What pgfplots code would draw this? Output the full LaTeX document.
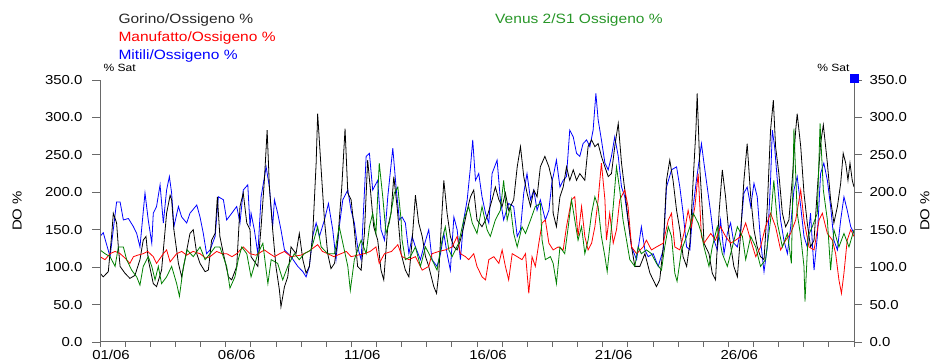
\documentclass[border=0pt]{standalone}
\usepackage{fontspec}
\setmainfont{Liberation Sans}[FakeStretch=1.15]
\usepackage{pgfplots}
\pgfplotsset{compat=1.18}
\definecolor{axgray}{RGB}{105,105,105}
\definecolor{dgreen}{RGB}{0,128,0}
\definecolor{lgreen}{RGB}{40,150,40}
\begin{document}
\begin{tikzpicture}[font=\fontsize{13}{15}\selectfont]
\useasboundingbox (0,0) rectangle (940pt,364pt);
\pgfplotsset{
  base/.style={scale only axis, width=754pt, height=262pt, at={(100pt,22pt)}, anchor=south west,
    xmin=0, xmax=30, ymin=0, ymax=350, tick align=outside,
    tick style={axgray, line width=0.8pt}, axis line style={axgray, line width=1pt}},
}
\begin{axis}[base, axis x line*=bottom, axis y line=none, ytick=\empty,
  xtick={0,5,...,25}, xticklabels={01/06,06/06,11/06,16/06,21/06,26/06},
  minor xtick={1,...,30}, major tick length=5pt, minor tick length=5pt,
  xticklabel style={anchor=north, xshift=11pt},
  every axis plot/.append style={line width=0.8pt}]
% Mitili (blue)
\addplot[blue] coordinates {
(0,141) (0.13,146) (0.40,114) (0.66,187) (0.80,187) (0.93,163) (1.13,165) (1.33,154) (1.46,145) (1.59,127) (1.79,199) (1.92,163) (2.06,132) (2.12,172) (2.25,181) (2.39,210) (2.52,159) (2.65,203) (2.76,221) (2.85,199) (2.94,154) (3.12,181) (3.25,167) (3.45,159) (3.58,172) (3.85,183) (3.98,167) (4.11,145) (4.24,118) (4.38,123) (4.58,141) (4.71,194) (4.91,190) (5.04,163) (5.24,172) (5.44,181) (5.57,159) (5.70,203) (5.88,210) (5.97,154)
(6.01,172) (6.14,150) (6.28,118) (6.41,194) (6.61,234) (6.74,207) (6.87,154) (6.94,190) (7.07,172) (7.20,150) (7.34,123) (7.60,114) (7.87,101) (8.07,94) (8.20,87) (8.33,101) (8.46,141) (8.60,159) (8.73,141) (8.93,163) (9.09,185) (9.26,150) (9.39,110) (9.52,154) (9.66,190) (9.86,203) (9.99,176) (10.12,159) (10.25,127) (10.39,110) (10.59,248) (10.72,252) (10.85,203) (11.05,216) (11.18,150) (11.32,136) (11.45,194) (11.65,259) (11.78,207) (11.91,163)
(12.02,167) (12.15,159) (12.29,118) (12.42,141) (12.55,127) (12.75,110) (12.88,127) (13.08,150) (13.21,110) (13.41,101) (13.55,118) (13.68,145) (13.81,118) (13.94,96) (14.08,167) (14.21,150) (14.34,110) (14.47,163) (14.61,190) (14.74,234) (14.83,270) (14.94,216) (15.07,225) (15.20,194) (15.34,172) (15.47,159) (15.60,225) (15.80,243) (15.93,190) (16.06,163) (16.26,185) (16.46,181) (16.60,141) (16.73,150) (16.86,199) (16.99,225) (17.13,190) (17.26,203) (17.39,176) (17.52,190) (17.72,163) (17.86,176) (17.99,216)
(18.03,221) (18.16,243) (18.30,207) (18.43,216) (18.56,221) (18.69,283) (18.83,274) (18.96,252) (19.09,248) (19.22,265) (19.36,270) (19.49,261) (19.62,283) (19.73,332) (19.82,297) (19.95,270) (20.09,239) (20.22,230) (20.35,248) (20.48,274) (20.62,248) (20.75,207) (20.88,194) (21.01,163) (21.15,127) (21.35,110) (21.54,154) (21.68,123) (21.81,114) (22.01,118) (22.21,101) (22.41,123) (22.54,207) (22.74,230) (22.94,234) (23.07,207) (23.20,172) (23.34,127) (23.47,123) (23.60,181) (23.73,216) (23.93,265)
(24.03,239) (24.16,207) (24.30,172) (24.43,136) (24.56,123) (24.69,163) (24.83,118) (24.96,145) (25.09,159) (25.22,132) (25.36,127) (25.49,150) (25.62,199) (25.75,207) (25.89,181) (26.02,212) (26.15,194) (26.28,136) (26.42,94) (26.55,127) (26.68,216) (26.75,283) (26.84,261) (26.95,216) (27.08,163) (27.21,136) (27.35,118) (27.48,154) (27.61,203) (27.74,221) (27.88,181) (28.01,141) (28.14,127) (28.27,172) (28.41,96) (28.54,141) (28.67,225) (28.80,239) (28.94,216) (29.07,181) (29.20,136) (29.34,123) (29.47,163) (29.60,194) (29.73,176) (29.87,154) (30,145)
};
% Gorino (black)
\addplot[black] coordinates {
(0,92) (0.13,87) (0.33,94) (0.46,141) (0.53,172) (0.66,159) (0.73,127) (0.80,101) (0.99,92) (1.19,85) (1.39,89) (1.59,110) (1.72,136) (1.83,141) (1.92,110) (2.12,78) (2.25,74) (2.45,96) (2.65,172) (2.79,196) (2.85,190) (2.94,150) (3.12,105) (3.25,87) (3.38,110) (3.58,145) (3.71,150) (3.85,118) (3.98,105) (4.18,94) (4.31,96) (4.44,136) (4.58,145) (4.67,194) (4.77,141) (4.91,118) (5.11,87) (5.24,83) (5.44,101) (5.57,181) (5.70,199) (5.84,159) (5.97,150)
(6.01,114) (6.28,101) (6.41,154) (6.54,216) (6.65,283) (6.74,207) (6.87,150) (7.00,101) (7.14,69) (7.20,47) (7.34,74) (7.47,87) (7.60,127) (7.80,118) (7.93,145) (8.07,110) (8.20,92) (8.33,101) (8.46,141) (8.60,239) (8.66,305) (8.80,230) (8.93,163) (9.06,118) (9.19,98) (9.33,105) (9.46,136) (9.62,207) (9.75,285) (9.86,199) (9.99,190) (10.12,150) (10.25,101) (10.39,96) (10.52,145) (10.65,243) (10.76,203) (10.89,154) (11.05,136) (11.18,96) (11.29,83) (11.45,154) (11.58,172) (11.69,221) (11.82,181) (11.98,118)
(12.15,96) (12.29,87) (12.42,136) (12.55,196) (12.68,159) (12.82,141) (12.95,114) (13.08,101) (13.28,74) (13.39,65) (13.48,92) (13.59,163) (13.68,216) (13.81,172) (13.94,141) (14.08,127) (14.21,123) (14.34,136) (14.47,154) (14.61,176) (14.74,194) (14.87,203) (15.00,163) (15.20,154) (15.40,167) (15.60,190) (15.73,207) (15.87,190) (16.00,181) (16.13,199) (16.26,176) (16.46,190) (16.60,234) (16.73,261) (16.86,221) (16.99,199) (17.13,181) (17.26,203) (17.39,194) (17.52,234) (17.70,248) (17.86,234) (17.99,216)
(18.03,172) (18.16,154) (18.30,194) (18.43,207) (18.56,234) (18.69,216) (18.83,230) (18.96,216) (19.09,225) (19.29,216) (19.42,261) (19.56,270) (19.69,261) (19.82,265) (19.95,248) (20.09,234) (20.22,221) (20.35,225) (20.48,261) (20.62,292) (20.75,239) (20.88,203) (21.01,163) (21.15,127) (21.28,101) (21.48,101) (21.68,118) (21.88,92) (22.01,83) (22.14,74) (22.27,83) (22.41,127) (22.54,216) (22.67,243) (22.80,216) (22.94,176) (23.07,150) (23.20,114) (23.34,101) (23.47,132) (23.60,216) (23.71,283) (23.76,332) (23.87,230) (23.99,163)
(24.03,132) (24.23,118) (24.36,92) (24.49,83) (24.63,172) (24.76,230) (24.89,194) (25.02,145) (25.22,101) (25.36,87) (25.49,145) (25.62,216) (25.75,265) (25.89,194) (26.02,150) (26.15,127) (26.28,114) (26.42,110) (26.55,181) (26.68,283) (26.79,323) (26.88,261) (27.01,225) (27.15,172) (27.28,154) (27.41,163) (27.54,216) (27.68,283) (27.74,305) (27.88,261) (28.01,199) (28.14,159) (28.27,127) (28.41,136) (28.54,203) (28.67,265) (28.78,290) (28.94,239) (29.07,190) (29.20,159) (29.34,181) (29.47,212) (29.57,252) (29.67,239) (29.76,216) (29.84,239) (29.93,216) (30,207)
};
% Manufatto (red)
\addplot[red] coordinates {
(0,114) (0.20,110) (0.40,118) (0.60,121) (0.80,118) (1.00,112) (1.19,105) (1.33,114) (1.50,116) (1.72,118) (1.90,121) (2.12,114) (2.25,105) (2.52,118) (2.65,123) (2.79,107) (3.05,118) (3.25,121) (3.45,116) (3.70,121) (3.98,118) (4.20,112) (4.38,114) (4.64,121) (4.85,118) (5.04,118) (5.25,114) (5.44,118) (5.70,127) (5.97,118)
(6.20,116) (6.54,123) (6.75,118) (6.94,114) (7.15,118) (7.34,121) (7.60,114) (7.99,116) (8.30,121) (8.66,130) (8.85,121) (9.06,118) (9.30,114) (9.59,118) (9.80,121) (9.99,114) (10.25,116) (10.52,118) (10.75,121) (10.98,127) (11.11,105) (11.32,118) (11.60,121) (11.85,130)
(12.02,114) (12.29,110) (12.55,114) (12.82,96) (13.08,101) (13.21,118) (13.48,121) (13.74,123) (14.01,127) (14.21,141) (14.34,118) (14.54,114) (14.67,110) (14.87,118) (15.00,101) (15.20,87) (15.34,83) (15.47,110) (15.67,114) (15.87,105) (16.00,123) (16.13,101) (16.26,83) (16.40,118) (16.60,114) (16.79,110) (16.93,118) (17.06,65) (17.19,114) (17.32,101) (17.46,132) (17.59,159) (17.72,163) (17.86,132) (18.03,123)
(18.23,127) (18.43,123) (18.56,154) (18.76,190) (18.89,194) (19.02,141) (19.16,181) (19.29,141) (19.42,123) (19.56,132) (19.69,154) (19.82,190) (19.95,239) (20.09,190) (20.15,136) (20.28,172) (20.42,132) (20.55,150) (20.68,190) (20.88,203) (21.01,181) (21.15,127) (21.35,118) (21.61,127) (21.74,136) (21.94,123) (22.14,127) (22.41,132) (22.61,163) (22.74,172) (22.87,127) (23.07,123) (23.27,150) (23.40,176) (23.53,154) (23.67,181) (23.80,225) (23.93,141)
(24.03,132) (24.30,145) (24.49,136) (24.69,154) (24.89,141) (25.09,132) (25.29,136) (25.49,141) (25.69,159) (25.89,136) (26.09,114) (26.28,127) (26.48,154) (26.68,172) (26.88,154) (27.08,123) (27.28,136) (27.48,145) (27.68,163) (27.88,203) (28.01,163) (28.21,127) (28.41,123) (28.61,163) (28.74,172) (28.94,145) (29.14,136) (29.27,118) (29.40,83) (29.50,65) (29.60,92) (29.73,136) (29.87,150) (30,141)
};
% Venus 2/S1 (green)
\addplot[dgreen] coordinates {
(0,123) (0.20,118) (0.40,114) (0.60,101) (0.73,127) (0.93,127) (1.06,110) (1.26,96) (1.46,87) (1.59,76) (1.72,101) (1.92,114) (2.06,101) (2.19,83) (2.32,101) (2.45,78) (2.65,87) (2.85,101) (3.05,78) (3.16,61) (3.32,101) (3.47,123) (3.71,114) (3.98,127) (4.18,110) (4.38,118) (4.58,127) (4.77,127) (5.04,101) (5.17,72) (5.37,87) (5.50,110) (5.64,127) (5.84,118)
(6.01,87) (6.28,118) (6.48,132) (6.61,96) (6.68,78) (6.81,110) (7.07,105) (7.27,83) (7.47,101) (7.73,118) (7.93,110) (8.13,118) (8.40,123) (8.66,154) (8.80,127) (9.06,118) (9.33,118) (9.52,154) (9.72,123) (9.86,101) (9.96,69) (10.12,110) (10.39,136) (10.59,118) (10.72,154) (10.85,172) (10.98,145) (11.11,239) (11.25,194) (11.38,145) (11.51,159) (11.71,199) (11.85,207) (11.98,163)
(12.02,136) (12.15,110) (12.35,114) (12.55,127) (12.75,101) (12.95,127) (13.21,110) (13.41,96) (13.61,136) (13.74,154) (13.88,123) (14.01,114) (14.27,132) (14.47,163) (14.67,181) (14.81,159) (15.00,145) (15.20,181) (15.40,150) (15.53,141) (15.73,163) (15.93,176) (16.06,216) (16.20,163) (16.33,181) (16.46,145) (16.60,127) (16.79,154) (16.93,145) (17.13,163) (17.32,181) (17.52,185) (17.59,136) (17.72,110) (17.92,114)
(18.03,105) (18.16,78) (18.30,127) (18.49,118) (18.63,154) (18.76,190) (18.89,163) (19.02,136) (19.16,154) (19.29,118) (19.42,136) (19.56,172) (19.69,194) (19.82,181) (19.95,141) (20.09,114) (20.18,94) (20.28,127) (20.42,181) (20.55,234) (20.68,203) (20.81,163) (20.95,136) (21.08,110) (21.28,101) (21.41,127) (21.54,118) (21.74,123) (21.94,118) (22.14,105) (22.34,96) (22.47,127) (22.61,154) (22.74,141) (22.87,92) (22.96,81) (23.14,123) (23.34,141) (23.47,154) (23.60,172) (23.80,159) (23.93,145)
(24.03,127) (24.23,101) (24.36,127) (24.56,154) (24.76,118) (24.96,101) (25.16,127) (25.36,154) (25.56,141) (25.69,110) (25.89,141) (26.09,127) (26.28,101) (26.48,110) (26.68,163) (26.81,216) (26.95,159) (27.15,127) (27.35,145) (27.51,105) (27.61,285) (27.74,172) (27.88,141) (28.01,101) (28.05,54) (28.17,141) (28.34,154) (28.54,172) (28.65,292) (28.78,203) (28.94,163) (29.07,96) (29.20,150) (29.40,127) (29.60,145) (29.80,127) (30,150)
};
\end{axis}
\begin{axis}[base, axis x line=none, axis y line*=left, xtick=\empty,
  ytick={0,50,...,350}, major tick length=8pt,
  yticklabel={\pgfmathprintnumber[fixed,fixed zerofill,precision=1,assume math mode=true]{\tick}},
  yticklabel style={xshift=-6pt},
  ylabel={DO \%}, ylabel style={at={(axis description cs:-0.11,0.5)}, anchor=center}]
\end{axis}
\begin{axis}[base, axis x line=none, axis y line*=right, xtick=\empty, clip=false,
  ytick={0,50,...,350}, major tick length=8pt,
  yticklabel={\pgfmathprintnumber[fixed,fixed zerofill,precision=1,assume math mode=true]{\tick}},
  yticklabel style={xshift=4pt},
  ylabel={DO \%}, ylabel style={at={(axis description cs:1.094,0.5)}, anchor=center}]
\addplot[only marks, mark=square*, mark size=4pt, blue] coordinates {(30,352)};
\end{axis}
\node[anchor=base west, text=black!85, font=\fontsize{13.5}{15}\selectfont] at (115pt,340pt) {Gorino/Ossigeno \%};
\node[anchor=base west, text=red, font=\fontsize{13.5}{15}\selectfont] at (115pt,322pt) {Manufatto/Ossigeno \%};
\node[anchor=base west, text=blue, font=\fontsize{13.5}{15}\selectfont] at (115pt,304.5pt) {Mitili/Ossigeno \%};
\node[anchor=base west, text=lgreen, font=\fontsize{13.5}{15}\selectfont] at (491.7pt,340pt) {Venus 2/S1 Ossigeno \%};
\node[anchor=base west, font=\fontsize{10.5}{12}\selectfont] at (100pt,292pt) {\% Sat};
\node[anchor=base east, font=\fontsize{10.5}{12}\selectfont] at (853pt,292pt) {\% Sat};
\end{tikzpicture}
\end{document}
